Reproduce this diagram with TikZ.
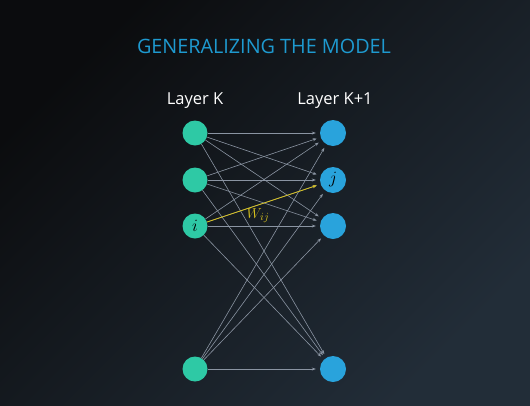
\documentclass[tikz,border=0pt]{standalone}
\usepackage{fontspec}
\setmainfont{Open Sans}
\usetikzlibrary{arrows.meta}
\definecolor{bgdark}{HTML}{0B0C0E}
\definecolor{bgmid}{HTML}{13171B}
\definecolor{bglight}{HTML}{222D38}
\definecolor{inteal}{HTML}{2EC9A5}
\definecolor{outblue}{HTML}{29A3DC}
\definecolor{titleblue}{HTML}{1E9AD0}
\definecolor{edgegray}{HTML}{8A94A2}
\definecolor{wyellow}{HTML}{D8C21E}
\tikzset{
	unitin/.style={circle,fill=inteal,minimum size=25pt,inner sep=0pt,font=\fontsize{17}{20}\selectfont},
	unitout/.style={circle,fill=outblue,minimum size=26pt,inner sep=0pt,font=\fontsize{17}{20}\selectfont},
	wire/.style={draw=edgegray,line width=0.6pt,shorten >=4pt,-{Stealth[length=4pt,width=3pt]}},
	layerlabel/.style={text=white,font=\fontsize{16.5}{20}\selectfont},
}
\begin{document}
\begin{tikzpicture}[x=1pt,y=-1pt]
	\shade[left color=bgdark,middle color=bgmid,right color=bglight,shading angle=45](0,0)rectangle(530,405);
	\useasboundingbox(0,0)rectangle(530,405);
	\node[text=titleblue,font=\fontsize{19.8}{24}\selectfont](title)at(264,46){GENERALIZING THE MODEL};
	\node[layerlabel](hk)at(195,101){Layer K};
	\node[layerlabel](hk1)at(335,101){Layer K+1};
	\node[unitin](l1)at(195,133){};
	\node[unitin](l2)at(195,180){};
	\node[unitin](l3)at(195,226){$i$};
	\node[unitin](l4)at(195,369){};
	\node[unitout](r1)at(333,133){};
	\node[unitout](r2)at(333,180){$j$};
	\node[unitout](r3)at(333,226){};
	\node[unitout](r4)at(333,369){};
	\foreach \a in {1,2,3,4}
		\foreach \b in {1,2,3,4}
			\draw[wire](l\a)--(r\b);
	\draw[wire,draw=wyellow,line width=0.8pt](l3)--node[pos=.45,below,text=wyellow,font=\fontsize{15}{18}\selectfont]{$W_{ij}$}(r2);
\end{tikzpicture}
\end{document}
